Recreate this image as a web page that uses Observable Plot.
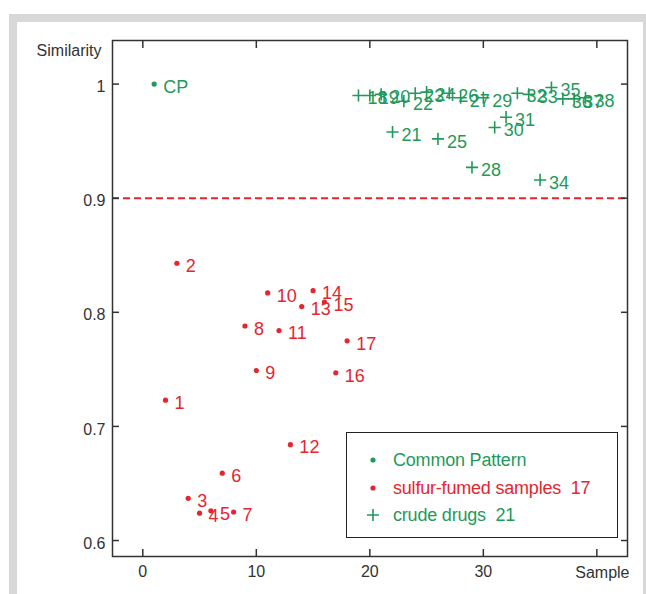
<!DOCTYPE html>
<html>
<head>
<meta charset="utf-8">
<script src="https://cdn.jsdelivr.net/npm/d3@7"></script>
<script src="https://cdn.jsdelivr.net/npm/@observablehq/plot@0.6"></script>
<style>
  html, body { margin: 0; padding: 0; background: #fff; }
  body { width: 646px; height: 594px; position: relative; overflow: hidden; font-family: "Liberation Sans", Arial, sans-serif; }
  #outer { position: absolute; left: 9px; top: 14px; width: 637px; height: 580px; background: #d8d8d8; }
  #inner { position: absolute; left: 17px; top: 22px; width: 626px; height: 572px; background: #fff; }
  #chart { position: absolute; left: 0; top: 0; }
  #legend { position: absolute; left: 346px; top: 432px; width: 270px; height: 104px; border: 1.5px solid #222; background: #fff; }
  .row { position: absolute; left: 0; height: 24px; line-height: 24px; font-size: 18px; white-space: pre; letter-spacing: -0.2px; }
  .row svg { position: absolute; left: 18px; top: 4px; }
  .row span { position: absolute; left: 46px; top: 0; }
</style>
</head>
<body>
<div id="outer"></div>
<div id="inner"></div>
<div id="chart"></div>
<div id="legend"></div>
<script>
// ---- data ----
const cpSample = [1];
const cpSimilarity = [1.0];
const cpLabels = ["CP"];

const sulfurSample = [2, 3, 4, 5, 6, 7, 8, 9, 10, 11, 12, 13, 14, 15, 16, 17, 18];
const sulfurSimilarity = [0.723, 0.843, 0.637, 0.624, 0.626, 0.659, 0.625, 0.788, 0.749, 0.817, 0.784, 0.684, 0.805, 0.819, 0.809, 0.747, 0.775];
const sulfurLabels = ["1","2","3","4","5","6","7","8","9","10","11","12","13","14","15","16","17"];

const crudeSample = [19, 20, 21, 22, 23, 24, 25, 26, 27, 28, 29, 30, 31, 32, 33, 34, 35, 36, 37, 38, 39];
const crudeSimilarity = [0.990, 0.990, 0.991, 0.958, 0.985, 0.992, 0.993, 0.952, 0.992, 0.988, 0.927, 0.988, 0.962, 0.971, 0.992, 0.991, 0.916, 0.997, 0.987, 0.987, 0.988];
const crudeLabels = ["18","19","20","21","22","23","24","25","26","27","28","29","30","31","32","33","34","35","36","37","38"];

const threshold = 0.9;
const xTicks = [0, 10, 20, 30, 40];
const xTickLabels = ["0", "10", "20", "30", ""];
const yTicks = [0.6, 0.7, 0.8, 0.9, 1];
const yTickLabels = ["0.6", "0.7", "0.8", "0.9", "1"];

const legendLabels = ["Common Pattern", "sulfur-fumed samples  17", "crude drugs  21"];
const legendSymbols = ["dot", "dot", "plus"];

const GREEN = "#1f9a5a";
const RED = "#e3262f";
const legendColors = [GREEN, RED, GREEN];

// ---- tables ----
const toRows = (xs, ys, ls) => xs.map((x, i) => ({x, y: ys[i], label: ls[i]}));
const cp = toRows(cpSample, cpSimilarity, cpLabels);
const sulfur = toRows(sulfurSample, sulfurSimilarity, sulfurLabels);
const crude = toRows(crudeSample, crudeSimilarity, crudeLabels);

const FONT = "Liberation Sans, Arial, sans-serif";
const labelOpts = {x: "x", y: "y", text: "label", dx: 9, dy: 3, textAnchor: "start", fontSize: 18};

const chart = Plot.plot({
  width: 646,
  height: 594,
  marginLeft: 112,
  marginTop: 40,
  marginRight: 19,
  marginBottom: 38,
  x: {domain: [-2.67, 42.7]},
  y: {domain: [0.586, 1.0382]},
  style: {background: "transparent", fontFamily: FONT, fontSize: "16px", color: "#333"},
  marks: [
    Plot.ruleY([threshold], {stroke: RED, strokeWidth: 2, strokeDasharray: "7,4"}),
    Plot.frame({stroke: "#333", strokeWidth: 1.5}),
    Plot.axisX({ticks: xTicks, tickSize: -7, tickFormat: () => "", label: null, strokeWidth: 1.5}),
    Plot.axisX({ticks: xTicks, tickSize: 0, tickPadding: 9, label: null, fontSize: 16, fill: "#333",
      tickFormat: d => xTickLabels[xTicks.indexOf(d)]}),
    Plot.axisX({anchor: "top", ticks: xTicks, tickSize: -7, tickFormat: () => "", label: null, strokeWidth: 1.5}),
    Plot.axisY({ticks: yTicks, tickSize: -7, tickFormat: () => "", label: null, strokeWidth: 1.5}),
    Plot.axisY({ticks: yTicks, tickSize: 0, tickPadding: 7, dy: 3, label: null, fontSize: 16, fill: "#333",
      tickFormat: d => yTickLabels[yTicks.indexOf(d)]}),
    Plot.axisY({anchor: "right", ticks: yTicks, tickSize: -7, tickFormat: () => "", label: null, strokeWidth: 1.5}),
    Plot.dot(cp, {x: "x", y: "y", r: 2.6, fill: GREEN}),
    Plot.dot(sulfur, {x: "x", y: "y", r: 2.6, fill: RED}),
    Plot.dot(crude, {x: "x", y: "y", r: 4, symbol: "plus", stroke: GREEN, strokeWidth: 1.6}),
    Plot.text(cp, {...labelOpts, fill: GREEN}),
    Plot.text(sulfur, {...labelOpts, fill: RED}),
    Plot.text(crude, {...labelOpts, fill: GREEN}),
    Plot.text(["Similarity"], {text: d => d, frameAnchor: "top-left", dx: -11, dy: 10, textAnchor: "end", lineAnchor: "middle", fontSize: 16, fill: "#333"}),
    Plot.text(["Sample"], {text: d => d, frameAnchor: "bottom-right", dx: 2, dy: 16, textAnchor: "end", lineAnchor: "middle", fontSize: 16, fill: "#333"})
  ]
});
document.getElementById("chart").appendChild(chart);

// ---- legend ----
const legend = document.getElementById("legend");
legendLabels.forEach((lab, i) => {
  const row = document.createElement("div");
  row.className = "row";
  row.style.top = (15 + i * 27.5) + "px";
  row.style.color = legendColors[i];
  const sym = legendSymbols[i] === "dot"
    ? `<circle cx="8" cy="8" r="2.6" fill="${legendColors[i]}"/>`
    : `<path d="M2,8H14M8,2V14" stroke="${legendColors[i]}" stroke-width="1.6"/>`;
  row.innerHTML = `<svg width="16" height="16">${sym}</svg><span>${lab}</span>`;
  legend.appendChild(row);
});
</script>
</body>
</html>
